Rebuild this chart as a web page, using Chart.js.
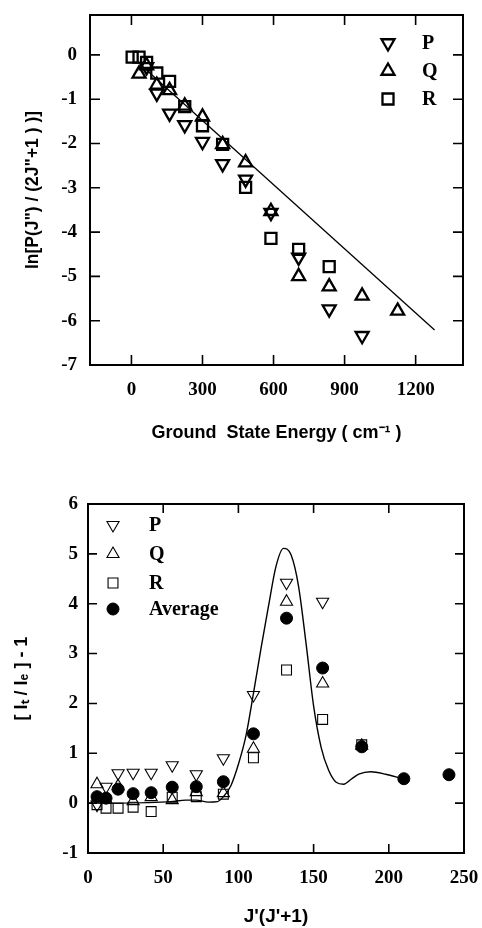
<!DOCTYPE html>
<html>
<head>
<meta charset="utf-8">
<script src="https://cdn.jsdelivr.net/npm/chart.js@4.4.1/dist/chart.umd.min.js"></script>
<style>
  html, body { margin: 0; padding: 0; background: #fff; }
  #wrap { position: relative; width: 482px; height: 928px; }
  #topChart { position: absolute; left: 0; top: 0; }
  #bottomChart { position: absolute; left: 0; top: 460px; }
</style>
</head>
<body>
<div id="wrap">
  <canvas id="topChart" width="482" height="460"></canvas>
  <canvas id="bottomChart" width="482" height="468"></canvas>
</div>
<script>
// ---- top panel: ln population vs ground state energy ----
const energyP = [64, 107, 161, 225, 300, 385, 482, 589, 706, 835, 974];
const lnP = [-0.27, -0.87, -1.32, -1.58, -1.96, -2.46, -2.81, -3.56, -4.57, -5.74, -6.34];
const energyQ = [32, 64, 107, 161, 225, 300, 385, 482, 589, 706, 835, 974, 1124];
const lnQ = [-0.43, -0.24, -0.68, -0.80, -1.15, -1.40, -2.02, -2.43, -3.53, -5.00, -5.23, -5.44, -5.78];
const energyR = [3, 32, 64, 107, 161, 225, 300, 385, 482, 589, 706, 835];
const lnR = [-0.05, -0.05, -0.17, -0.41, -0.60, -1.17, -1.60, -2.02, -2.99, -4.14, -4.39, -4.78];
const fitEnergy = [40, 1280];
const fitLn = [-0.23, -6.21];
const energyTicks = [0, 300, 600, 900, 1200];
const lnTicks = [-7, -6, -5, -4, -3, -2, -1, 0];

// ---- bottom panel: [It/Ie]-1 vs J'(J'+1) ----
const jjP = [6, 12, 20, 30, 42, 56, 72, 90, 110, 132, 156];
const ratioP = [-0.03, 0.33, 0.60, 0.61, 0.61, 0.76, 0.58, 0.90, 2.17, 4.42, 4.04];
const jjQ = [6, 12, 20, 30, 42, 56, 72, 90, 110, 132, 156, 182];
const ratioQ = [0.38, 0.07, 0.34, 0.04, 0.12, 0.06, 0.22, 0.20, 1.09, 4.04, 2.40, 1.15];
const jjR = [6, 12, 20, 30, 42, 56, 72, 90, 110, 132, 156, 182];
const ratioR = [-0.03, -0.10, -0.10, -0.08, -0.17, 0.12, 0.13, 0.18, 0.91, 2.67, 1.68, 1.17];
const jjAvg = [6, 12, 20, 30, 42, 56, 72, 90, 110, 132, 156, 182, 210, 240];
const ratioAvg = [0.13, 0.10, 0.28, 0.19, 0.21, 0.32, 0.33, 0.43, 1.39, 3.71, 2.71, 1.13, 0.49, 0.57];
const fitJJ = [0, 20, 40, 55, 65, 72, 80, 86, 90, 95, 100, 105, 110, 115, 120, 125, 130, 135, 140, 145, 150, 155, 160, 165, 170, 175, 180, 188, 198, 208];
const fitRatio = [0, 0, 0.01, 0.03, 0.06, 0.06, 0.02, 0.03, 0.13, 0.35, 0.78, 1.35, 2.2, 3.1, 3.95, 4.75, 5.11, 4.98, 4.35, 3.2, 1.95, 1.12, 0.66, 0.42, 0.38, 0.48, 0.58, 0.63, 0.58, 0.5];
const jjTicks = [0, 50, 100, 150, 200, 250];
const ratioTicks = [-1, 0, 1, 2, 3, 4, 5, 6];

const pts = (xs, ys) => xs.map((v, i) => ({ x: v, y: ys[i] }));

const tickFont = { family: 'Liberation Serif', size: 19, weight: 'bold' };
const sansBold = size => ({ family: 'Liberation Sans', size: size, weight: 'bold' });

// frame with inward tick marks on all four sides
const frameTicks = {
  id: 'frameTicks',
  afterDatasetsDraw(chart, args, opts) {
    const { ctx, chartArea: a, scales: { x, y } } = chart;
    ctx.save();
    ctx.strokeStyle = '#000';
    ctx.lineWidth = opts.lineWidth;
    ctx.strokeRect(a.left, a.top, a.right - a.left, a.bottom - a.top);
    ctx.lineWidth = opts.tickWidth;
    ctx.beginPath();
    x.ticks.forEach(t => {
      const px = x.getPixelForValue(t.value);
      ctx.moveTo(px, a.bottom); ctx.lineTo(px, a.bottom - opts.len);
      ctx.moveTo(px, a.top); ctx.lineTo(px, a.top + opts.len);
    });
    y.ticks.forEach(t => {
      const py = y.getPixelForValue(t.value);
      ctx.moveTo(a.left, py); ctx.lineTo(a.left + opts.len, py);
      ctx.moveTo(a.right, py); ctx.lineTo(a.right - opts.len, py);
    });
    ctx.stroke();
    ctx.restore();
  }
};

// legend drawn inside the plot area
const insetLegend = {
  id: 'insetLegend',
  afterDraw(chart, args, opts) {
    const ctx = chart.ctx;
    ctx.save();
    let i = 0;
    chart.data.datasets.forEach(ds => {
      if (!ds.inLegend) return;
      const yy = opts.rows[i++];
      ctx.strokeStyle = '#000';
      ctx.fillStyle = ds.pointBackgroundColor;
      ctx.lineWidth = ds.pointBorderWidth;
      Chart.helpers.drawPoint(ctx, {
        pointStyle: ds.pointStyle,
        rotation: ds.pointRotation || 0,
        radius: ds.pointRadius,
        borderWidth: ds.pointBorderWidth
      }, opts.markerX, yy);
      ctx.fillStyle = '#000';
      ctx.font = opts.font;
      ctx.textBaseline = 'middle';
      ctx.textAlign = 'left';
      ctx.fillText(ds.label, opts.textX, yy + 1);
    });
    ctx.restore();
  }
};

function marker(label, data, style, rot, r, bw, fill) {
  return {
    label: label, data: data, inLegend: true,
    pointStyle: style, pointRotation: rot, pointRadius: r,
    pointBorderWidth: bw, pointBorderColor: '#000',
    pointBackgroundColor: fill, showLine: false
  };
}

function axis(min, max, tickVals, opts) {
  return {
    type: 'linear', min: min, max: max,
    afterBuildTicks: s => { s.ticks = tickVals.map(v => ({ value: v })); },
    afterFit: s => {
      opts.fit(s);
      // let layout.padding alone place the plot box
      s.paddingTop = 0; s.paddingBottom = 0; s.paddingLeft = 0; s.paddingRight = 0;
    },
    ticks: { autoSkip: false, maxRotation: 0, padding: opts.pad, font: tickFont, color: '#000', callback: v => String(v) },
    grid: { display: false, drawTicks: false },
    border: { display: false },
    title: { display: true, text: opts.title, font: opts.titleFont, color: '#000', padding: opts.titlePad }
  };
}

new Chart(document.getElementById('topChart'), {
  type: 'scatter',
  data: {
    datasets: [
      marker('P', pts(energyP, lnP), 'triangle', 180, 7.5, 2.3, 'rgba(0,0,0,0)'),
      marker('Q', pts(energyQ, lnQ), 'triangle', 0, 7.5, 2.3, 'rgba(0,0,0,0)'),
      marker('R', pts(energyR, lnR), 'rect', 0, 7.8, 2.3, 'rgba(0,0,0,0)'),
      { label: 'fit', data: pts(fitEnergy, fitLn), showLine: true, borderColor: '#000', borderWidth: 1.3, pointRadius: 0 }
    ]
  },
  options: {
    responsive: false,
    animation: false,
    layout: { padding: { top: 15, right: 19, left: 0, bottom: 0 } },
    scales: {
      x: axis(-175, 1400, energyTicks, { pad: 14, fit: s => { s.height = 95; }, title: 'Ground  State Energy ( cm\u207B\u00B9 )', titleFont: sansBold(18), titlePad: { top: 0, bottom: 16 } }),
      y: axis(-7, 0.9, lnTicks, { pad: 13, fit: s => { s.width = 90; }, title: 'ln[P(J") / (2J"+1 ) )]', titleFont: sansBold(17.5), titlePad: { top: 23, bottom: 0 } })
    },
    plugins: {
      legend: { display: false },
      tooltip: { enabled: false },
      frameTicks: { lineWidth: 2, tickWidth: 1.6, len: 10 },
      insetLegend: { markerX: 388, textX: 422, rows: [43, 71, 99], font: 'bold 20px "Liberation Serif"' }
    }
  },
  plugins: [frameTicks, insetLegend]
});

new Chart(document.getElementById('bottomChart'), {
  type: 'scatter',
  data: {
    datasets: [
      marker('P', pts(jjP, ratioP), 'triangle', 180, 7, 1.1, 'rgba(0,0,0,0)'),
      marker('Q', pts(jjQ, ratioQ), 'triangle', 0, 7, 1.1, 'rgba(0,0,0,0)'),
      marker('R', pts(jjR, ratioR), 'rect', 0, 7, 1.1, 'rgba(0,0,0,0)'),
      marker('Average', pts(jjAvg, ratioAvg), 'circle', 0, 6, 1, '#000'),
      { label: 'fit', data: pts(fitJJ, fitRatio), showLine: true, borderColor: '#000', borderWidth: 1.4, pointRadius: 0, cubicInterpolationMode: 'monotone' }
    ]
  },
  options: {
    responsive: false,
    animation: false,
    layout: { padding: { top: 44, right: 18, left: 0, bottom: 0 } },
    scales: {
      x: axis(0, 250, jjTicks, { pad: 14, fit: s => { s.height = 75; }, title: "J'(J'+1)", titleFont: sansBold(19), titlePad: { top: 0, bottom: 0 } }),
      y: axis(-1, 6, ratioTicks, { pad: 10, fit: s => { s.width = 88; }, title: '[ I\u209C / I\u2091 ] - 1', titleFont: sansBold(18), titlePad: { top: 11, bottom: 0 } })
    },
    plugins: {
      legend: { display: false },
      tooltip: { enabled: false },
      frameTicks: { lineWidth: 2, tickWidth: 1.6, len: 9 },
      insetLegend: { markerX: 113, textX: 149, rows: [65, 94, 123, 149], font: 'bold 20px "Liberation Serif"' }
    }
  },
  plugins: [frameTicks, insetLegend]
});
</script>
</body>
</html>
